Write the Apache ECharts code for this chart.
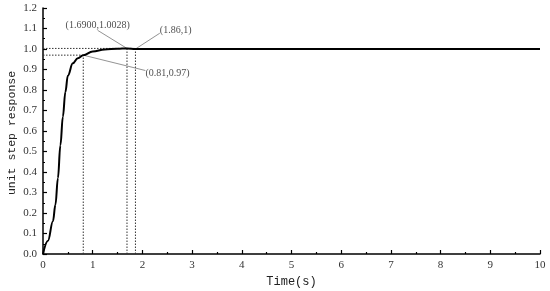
<!DOCTYPE html>
<html>
<head>
<meta charset="utf-8">
<script src="https://cdn.jsdelivr.net/npm/echarts@6/dist/echarts.min.js"></script>
<style>
  html, body { margin: 0; padding: 0; background: #fff; }
  #main { width: 550px; height: 291px; }
</style>
</head>
<body>
<div id="main"></div>
<script>
// step response
var timeS = [0, 0.1, 0.2, 0.25, 0.3, 0.35, 0.4, 0.45, 0.5, 0.6, 0.7, 0.81, 1.0, 1.24, 1.5, 1.69, 1.86, 10];
var response = [0, 0.065, 0.16, 0.24, 0.37, 0.53, 0.67, 0.79, 0.87, 0.93, 0.955, 0.97, 0.988, 0.998, 1.001, 1.0028, 1.0, 1.0];

// marked points
var markX = [0.81, 1.69, 1.86];
var markY = [0.97, 1.0028, 1];
var markText = ['(0.81,0.97)', '(1.6900,1.0028)', '(1.86,1)'];

var xTicks = ['0', '1', '2', '3', '4', '5', '6', '7', '8', '9', '10'];

var chart = echarts.init(document.getElementById('main'));

var curve = timeS.map(function (t, i) { return [t, response[i]]; });

var dot = { color: '#333', width: 1, type: [1.5, 1.5] };
var lead = { color: '#777', width: 0.8 };

function seg(a, b, style) {
  return {
    type: 'line', data: [a, b], symbol: 'none', silent: true,
    lineStyle: style, z: 1
  };
}

// label anchor points (where the leader leaves the text)
var leadFrom = [[2.06, 0.895], [1.10, 1.091], [2.35, 1.077]];
var labelPos = ['right', 'top', 'right'];
var labelOff = [[-1, 3], [0, 1], [-1, -3]];

var series = [
  {
    type: 'line', data: curve, symbol: 'none', smooth: 0.4, smoothMonotone: 'x',
    lineStyle: { color: '#000', width: 2 }, z: 3
  },
  // guide lines
  seg([0, markY[0]], [markX[0], markY[0]], dot),
  seg([markX[0], 0], [markX[0], markY[0]], dot),
  seg([0, markY[1]], [markX[2], markY[1]], dot),
  seg([markX[1], 0], [markX[1], markY[1]], dot),
  seg([markX[2], 0], [markX[2], markY[2]], dot)
];

markX.forEach(function (x, i) {
  series.push(seg(leadFrom[i], [x, markY[i]], lead));
});

series.push({
  type: 'scatter', symbolSize: 0, silent: true, z: 4,
  data: leadFrom.map(function (p, i) {
    return {
      value: p,
      label: {
        show: true, position: labelPos[i], distance: 1, offset: labelOff[i],
        formatter: markText[i], fontFamily: 'Liberation Serif', fontSize: 10, color: '#222'
      }
    };
  })
});

chart.setOption({
  animation: false,
  grid: { left: 43, right: 10, top: 8, bottom: 37, outerBoundsMode: 'none', containLabel: false },
  // y axis title (axis name gets pushed to the edge in v6)
  graphic: [{
    type: 'text', x: 12, y: 133, rotation: Math.PI / 2,
    style: {
      text: 'unit step response', fontFamily: 'Liberation Mono', fontSize: 11.5,
      fill: '#222', textAlign: 'center', textVerticalAlign: 'middle'
    }
  }],
  xAxis: {
    type: 'value', min: 0, max: 10, interval: 1,
    name: 'Time(s)', nameLocation: 'middle', nameGap: 20,
    nameTextStyle: { fontFamily: 'Liberation Mono', fontSize: 12, color: '#222' },
    axisLine: { lineStyle: { color: '#000', width: 1.5 } },
    axisTick: { inside: true, length: 4, lineStyle: { color: '#000', width: 1.2 } },
    minorTick: { show: true, splitNumber: 2, length: 2, lineStyle: { color: '#000', width: 1.2 } },
    axisLabel: {
      margin: 6, fontFamily: 'Liberation Serif', fontSize: 11, color: '#333',
      formatter: function (v) { return xTicks[Math.round(v)]; }
    },
    splitLine: { show: false }
  },
  yAxis: {
    type: 'value', min: 0, max: 1.2, interval: 0.1,
    axisLine: { show: true, lineStyle: { color: '#000', width: 1.5 } },
    axisTick: { show: true, inside: true, length: 4, lineStyle: { color: '#000', width: 1.2 } },
    minorTick: { show: true, splitNumber: 2, length: 2, lineStyle: { color: '#000', width: 1.2 } },
    axisLabel: {
      margin: 6, fontFamily: 'Liberation Serif', fontSize: 11, color: '#333',
      formatter: function (v) { return v.toFixed(1); }
    },
    splitLine: { show: false }
  },
  series: series
});
</script>
</body>
</html>
